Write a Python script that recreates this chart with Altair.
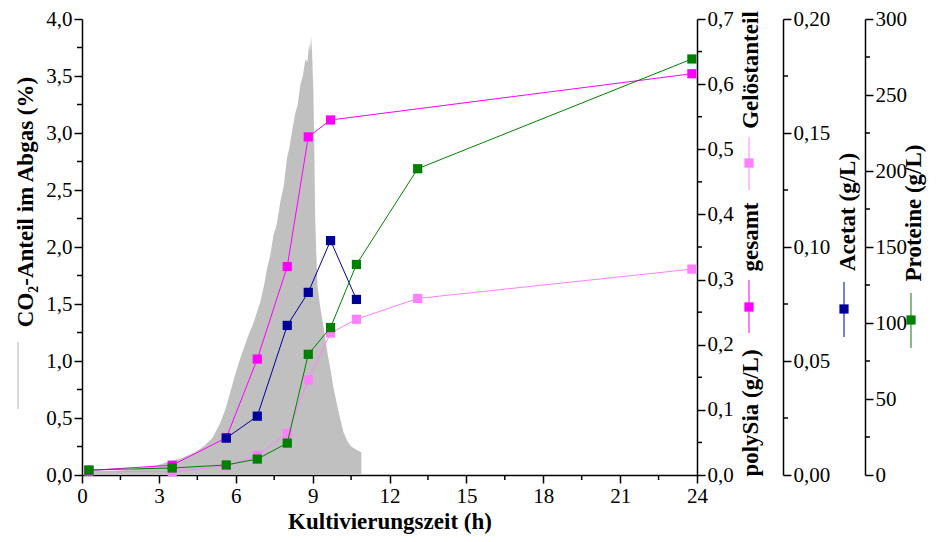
import altair as alt
import pandas as pd

SERIF = "Liberation Serif, Times New Roman, DejaVu Serif"
W, H = 615, 456

# ---- data ----
co2_t = [0.05, 0.5, 1.0, 1.5, 2.0, 2.5, 3.0, 3.3, 3.6, 3.9, 4.2, 4.5, 4.8, 5.1, 5.4, 5.6,
         5.8, 6.0, 6.2, 6.45, 6.7, 6.96, 7.1, 7.23, 7.35, 7.47, 7.6, 7.74, 7.87, 8.0, 8.1,
         8.2, 8.33, 8.42, 8.52, 8.62, 8.72, 8.8, 8.86, 8.9, 8.94, 8.98, 9.03, 9.07, 9.1,
         9.15, 9.19, 9.28, 9.38, 9.48, 9.58, 9.7, 9.81, 9.95, 10.09, 10.2, 10.35, 10.5,
         10.65, 10.8, 10.9]
co2_v = [0.03, 0.03, 0.03, 0.04, 0.05, 0.07, 0.09, 0.11, 0.13, 0.15, 0.18, 0.21, 0.26, 0.33,
         0.46, 0.58, 0.74, 0.90, 1.04, 1.20, 1.34, 1.52, 1.66, 1.82, 1.93, 2.10, 2.20, 2.40,
         2.53, 2.78, 2.88, 3.02, 3.18, 3.25, 3.42, 3.50, 3.65, 3.62, 3.78, 3.72, 3.85, 3.70,
         3.35, 2.80, 2.25, 1.90, 1.66, 1.50, 1.36, 1.22, 1.07, 0.92, 0.77, 0.62, 0.48, 0.38,
         0.30, 0.25, 0.23, 0.21, 0.20]

gesamt_t = [0.27, 3.52, 5.63, 6.84, 8.01, 8.83, 9.70, 23.8]
gesamt_v = [0.007, 0.015, 0.057, 0.178, 0.320, 0.519, 0.545, 0.616]
geloest_t = [0.27, 3.52, 5.63, 6.84, 8.01, 8.83, 9.70, 10.71, 13.1, 23.8]
geloest_v = [0.006, 0.005, 0.014, 0.030, 0.064, 0.146, 0.218, 0.239, 0.271, 0.316]
acetat_t = [5.63, 6.84, 8.01, 8.83, 9.70, 10.71]
acetat_v = [0.0162, 0.0258, 0.0656, 0.0801, 0.1028, 0.0770]
protein_t = [0.27, 3.52, 5.63, 6.84, 8.01, 8.83, 9.70, 10.71, 13.1, 23.8]
protein_v = [3.3, 4.6, 6.6, 10.5, 21.0, 79.4, 97.0, 138.5, 201.5, 273.7]

x_ticks = [0, 3, 6, 9, 12, 15, 18, 21, 24]
x_minor = [1.5, 4.5, 7.5, 10.5, 13.5, 16.5, 19.5, 22.5]
co2_ticks = [0, 0.5, 1.0, 1.5, 2.0, 2.5, 3.0, 3.5, 4.0]
co2_minor = [0.25, 0.75, 1.25, 1.75, 2.25, 2.75, 3.25, 3.75]
ps_ticks = [0, 0.1, 0.2, 0.3, 0.4, 0.5, 0.6, 0.7]
ps_minor = [0.05, 0.15, 0.25, 0.35, 0.45, 0.55, 0.65]
ac_ticks = [0, 0.05, 0.10, 0.15, 0.20]
ac_minor = [0.025, 0.075, 0.125, 0.175]
pr_ticks = [0, 50, 100, 150, 200, 250, 300]
pr_minor = [25, 75, 125, 175, 225, 275]

C_GRAY = "#c0c0c0"
C_MAG = "#ff00ff"
C_PINK = "#ff80ff"
C_NAVY = "#000099"
C_GREEN = "#008000"

OFF_AC = 86
OFF_PR = 168

# ---- scales / axes ----
xs = alt.Scale(domain=[0, 24], nice=False, zero=False)
xaxis = alt.Axis(values=x_ticks, title="Kultivierungszeit (h)", titleFont=SERIF,
                 titleFontSize=23, titleFontWeight="bold", titlePadding=4,
                 labelFlush=False, format="d", titleColor="black")
X = alt.X("t:Q", scale=xs, axis=xaxis)


def comma_expr(dec):
    return f"replace(format(datum.value, '.{dec}f'), '.', ',')"


def yscale(domain):
    return alt.Scale(domain=domain, nice=False, zero=False)


def series(t, v, color, domain, axis):
    df = pd.DataFrame({"t": t, "v": v})
    y = alt.Y("v:Q", scale=yscale(domain), axis=axis)
    base = alt.Chart(df).encode(x=X, y=y)
    return alt.layer(
        base.mark_line(color=color, strokeWidth=1),
        base.mark_point(shape="square", filled=True, size=85, color=color, opacity=1),
    )


def yminor(vals, domain, x0, x1):
    df = pd.DataFrame({"m": vals})
    return alt.Chart(df).mark_rule(color="black", strokeWidth=1.5).encode(
        y=alt.Y("m:Q", scale=yscale(domain), axis=None),
        x=alt.value(x0), x2=alt.value(x1))


one = pd.DataFrame({"d": [0]})


def vtext(txt, x, y):
    return alt.Chart(one).mark_text(
        text=txt, angle=270, font=SERIF, fontSize=23, fontWeight="bold",
        align="center", baseline="alphabetic", color="black"
    ).encode(x=alt.value(x), y=alt.value(y))


def symbol(color, x, y, y0, y1):
    ln = alt.Chart(one).mark_rule(color=color, strokeWidth=1).encode(
        x=alt.value(x), y=alt.value(y0), y2=alt.value(y1))
    pt = alt.Chart(one).mark_point(shape="square", filled=True, size=85,
                                   color=color, opacity=1).encode(
        x=alt.value(x), y=alt.value(y))
    return [ln, pt]


# ---- layers ----
co2_df = pd.DataFrame({"t": co2_t, "v": co2_v})
area = alt.Chart(co2_df).mark_area(color=C_GRAY, opacity=1).encode(
    x=X,
    y=alt.Y("v:Q", scale=yscale([0, 4]),
            axis=alt.Axis(orient="left", values=co2_ticks, title=None,
                          labelExpr=comma_expr(1), labelFlush=False)))

xminor = alt.Chart(pd.DataFrame({"t": x_minor})).mark_rule(
    color="black", strokeWidth=1.5).encode(x=X, y=alt.value(H), y2=alt.value(H + 5))

ps_axis = alt.Axis(orient="right", values=ps_ticks, title=None, offset=0,
                   labelExpr=comma_expr(1), labelFlush=False)
ac_axis = alt.Axis(orient="right", values=ac_ticks, title=None, offset=OFF_AC,
                   labelExpr=comma_expr(2), labelFlush=False)
pr_axis = alt.Axis(orient="right", values=pr_ticks, title=None, offset=OFF_PR,
                   format="d", labelFlush=False)

layers = [
    area,
    yminor(co2_minor, [0, 4], 0, -5),
    xminor,
    series(geloest_t, geloest_v, C_PINK, [0, 0.7], ps_axis),
    series(gesamt_t, gesamt_v, C_MAG, [0, 0.7], None),
    series(acetat_t, acetat_v, C_NAVY, [0, 0.2], ac_axis),
    series(protein_t, protein_v, C_GREEN, [0, 300], pr_axis),
    yminor(ps_minor, [0, 0.7], W, W + 5),
    yminor(ac_minor, [0, 0.2], W + OFF_AC, W + OFF_AC + 5),
    yminor(pr_minor, [0, 300], W + OFF_PR, W + OFF_PR + 5),
    # left title + legend line
    vtext("CO\u2082-Anteil im Abgas (%)", -49, 183),
    alt.Chart(one).mark_rule(color="#b0b0b0", strokeWidth=1).encode(
        x=alt.value(-64), y=alt.value(323), y2=alt.value(390)),
    # polySia column
    vtext("polySia (g/L)", 676, 394),
    *symbol(C_MAG, 667, 288, 261, 314),
    vtext("gesamt", 676, 218),
    *symbol(C_PINK, 667, 144, 118, 171),
    vtext("Gelöstanteil", 676, 51),
    # Acetat column
    *symbol(C_NAVY, 762, 290, 263, 318),
    vtext("Acetat (g/L)", 773, 193),
    # Proteine column
    *symbol(C_GREEN, 829, 301, 274, 329),
    vtext("Proteine (g/L)", 839, 194),
]

chart = alt.layer(*layers).resolve_scale(y="independent").properties(
    width=W, height=H,
    background="white",
    autosize=alt.AutoSizeParams(type="none"),
    padding={"left": 74, "top": 11, "right": 231, "bottom": 59},
).configure_axis(
    labelFont=SERIF, labelFontSize=21, labelColor="black",
    domainColor="black", domainWidth=1.5, tickColor="black", tickWidth=1.5,
    tickSize=8, grid=False, labelPadding=2, labelOverlap=False,
).configure_view(stroke=None)

chart.save("out.html", embed_options={"renderer": "svg", "actions": False})
